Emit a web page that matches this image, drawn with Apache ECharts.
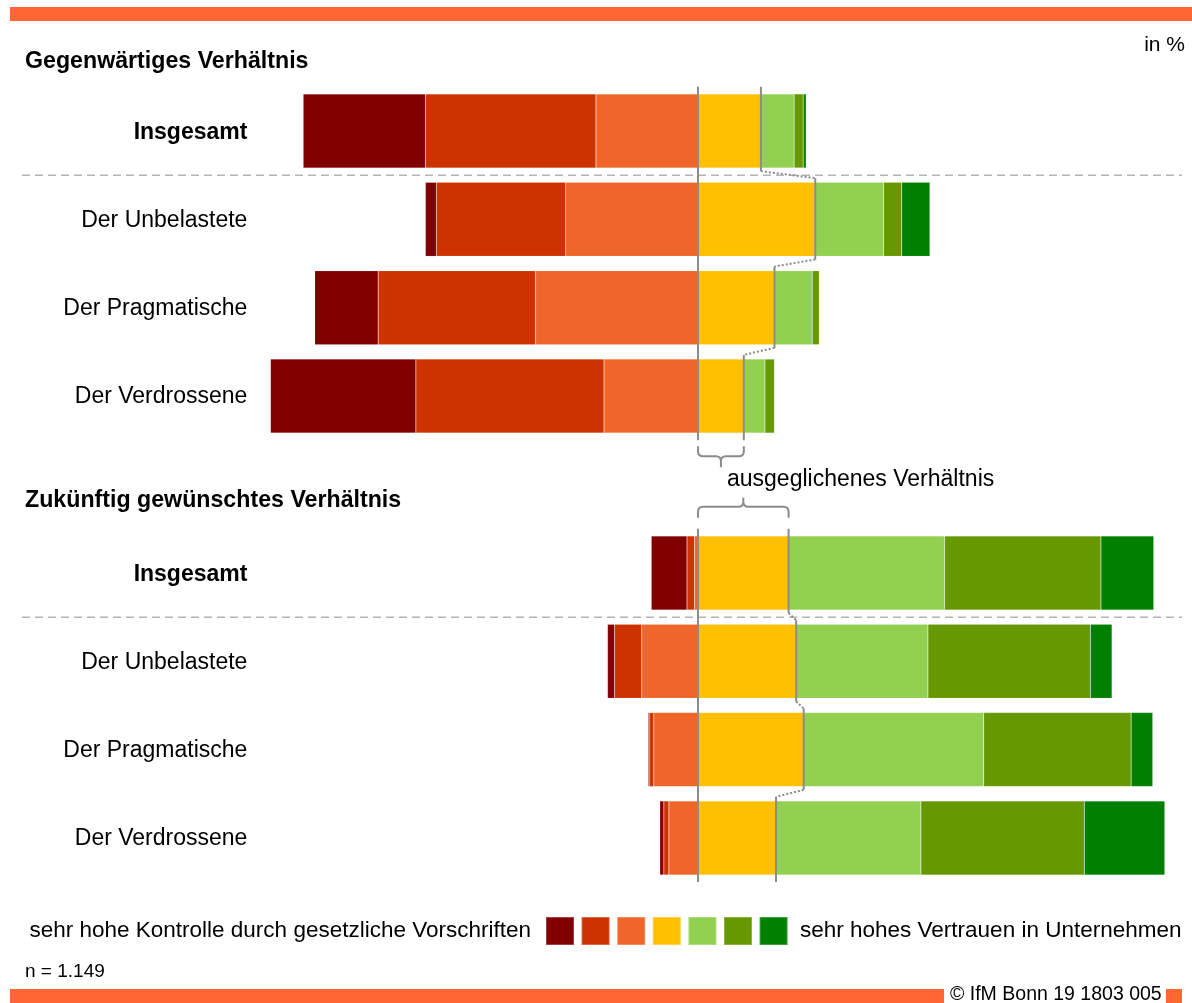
<!DOCTYPE html>
<html lang="de">
<head>
<meta charset="utf-8">
<title>Gegenwärtiges und gewünschtes Verhältnis</title>
<script src="https://cdn.jsdelivr.net/npm/echarts@6/dist/echarts.min.js"></script>
<style>
  html, body { margin: 0; padding: 0; background: #fff; }
  #chart { width: 1192px; height: 1003px; }
</style>
</head>
<body>
<div id="chart"></div>
<script>
const FONT = '"Liberation Sans", Arial, sans-serif'

const categories = ['Insgesamt', 'Der Unbelastete', 'Der Pragmatische', 'Der Verdrossene']
// Stufe 1 = sehr hohe Kontrolle ... Stufe 7 = sehr hohes Vertrauen
const levels = ['Stufe 1', 'Stufe 2', 'Stufe 3', 'Stufe 4', 'Stufe 5', 'Stufe 6', 'Stufe 7']
const colors = ['#800000', '#cc3300', '#ee6629', '#ffc000', '#92d050', '#669900', '#008000']

// in %, je Zeile eine Gruppe (Reihenfolge wie categories), Spalten Stufe 1..7
const current = [
  [24.3, 33.9, 20.3, 12.5, 6.6, 1.8, 0.6],
  [2.2, 25.7, 26.3, 23.3, 13.6, 3.6, 5.6],
  [12.6, 31.3, 32.3, 15.2, 7.5, 1.4, 0],
  [28.9, 37.4, 18.7, 9.1, 4.2, 1.9, 0]
]
const desired = [
  [7.1, 1.5, 0.7, 18.0, 31.0, 31.1, 10.5],
  [1.4, 5.4, 11.2, 19.5, 26.2, 32.3, 4.3],
  [0.3, 0.8, 8.8, 21.0, 35.8, 29.3, 4.3],
  [0.8, 1.0, 5.8, 15.5, 28.8, 32.5, 16.0]
]

const sectionTitles = ['Gegenwärtiges Verhältnis', 'Zukünftig gewünschtes Verhältnis']
const legendLeft = 'sehr hohe Kontrolle durch gesetzliche Vorschriften'
const legendRight = 'sehr hohes Vertrauen in Unternehmen'
const balancedLabel = 'ausgeglichenes Verhältnis'
const sampleNote = 'n = 1.149'
const sourceNote = '© IfM Bonn 19 1803 005'
const unitNote = 'in %'

const GRAY = '#8c8c8c'
// links liegende Stufen zuerst (von der Mitte nach außen), dann rechts
const stackOrder = [2, 1, 0, 3, 4, 5, 6]

function barSeries(rows, g) {
  return stackOrder.map(k => {
    const s = {
      name: levels[k],
      type: 'bar',
      stack: 'grid' + g,
      xAxisIndex: g,
      yAxisIndex: g,
      barWidth: 74,
      itemStyle: { color: colors[k], borderColor: 'rgba(255,255,255,0.25)', borderWidth: 0.5 },
      emphasis: { disabled: true },
      data: rows.map(r => (k < 3 ? -r[k] : r[k]))
    }
    if (k === 3) {
      s.markLine = {
        silent: true,
        symbol: 'none',
        label: { show: false },
        lineStyle: { color: GRAY, width: 2, type: 'solid' },
        data: [{ xAxis: 0 }]
      }
    }
    return s
  })
}

// Grenze zwischen "ausgeglichen" und Vertrauen, mit gepunkteter Verbindung
function boundarySeries(rows, g) {
  const vals = rows.map(r => r[3])
  const last = vals.length - 1
  return {
    type: 'custom',
    xAxisIndex: g,
    yAxisIndex: g,
    silent: true,
    clip: false,
    z: 5,
    data: vals.map((v, i) => [v, i]),
    renderItem(params, api) {
      const i = params.dataIndex
      const p = api.coord([vals[i], i])
      const h = api.size([0, 1])[1]
      const top = p[1] - h / 2
      const bot = p[1] + h / 2
      const y0 = i === 0 ? top : top + 3
      const y1 = i === last ? bot : bot - 4
      const children = [{
        type: 'line',
        shape: { x1: p[0], y1: y0, x2: p[0], y2: y1 },
        style: { stroke: GRAY, lineWidth: 2 }
      }]
      if (i < last) {
        const q = api.coord([vals[i + 1], i + 1])
        children.push({
          type: 'line',
          shape: { x1: p[0], y1: y1, x2: q[0], y2: q[1] - h / 2 + 3 },
          style: { stroke: GRAY, lineWidth: 2, lineDash: [2, 2] }
        })
      }
      return { type: 'group', children }
    }
  }
}

// geschweifte Klammer über die neutrale Stufe
function braceSeries(rows, g, idx, down) {
  const v = rows[idx][3]
  return {
    type: 'custom',
    xAxisIndex: g,
    yAxisIndex: g,
    silent: true,
    clip: false,
    data: [[v, idx]],
    renderItem(params, api) {
      const a = api.coord([0, idx])
      const b = api.coord([v, idx])
      const h = api.size([0, 1])[1]
      const s = down ? 1 : -1
      const edge = a[1] + s * h / 2
      const yA = edge + s * (down ? 6 : 11)
      const yB = edge + s * (down ? 16 : 22)
      const yC = edge + s * (down ? 27 : 31)
      const x0 = a[0], x1 = b[0], xm = (x0 + x1) / 2, r = 5
      const d = [
        'M', x0, yA, 'L', x0, yB - s * r, 'Q', x0, yB, x0 + r, yB,
        'L', xm - r, yB, 'Q', xm, yB, xm, yB + s * r, 'L', xm, yC,
        'M', xm, yB + s * r, 'Q', xm, yB, xm + r, yB,
        'L', x1 - r, yB, 'Q', x1, yB, x1, yB - s * r, 'L', x1, yA
      ].join(' ')
      return {
        type: 'path',
        shape: { pathData: d },
        style: { stroke: GRAY, lineWidth: 2, fill: null }
      }
    }
  }
}

function catAxis(g) {
  return {
    type: 'category',
    gridIndex: g,
    data: categories,
    inverse: true,
    axisLine: { show: false },
    axisTick: { show: false },
    axisLabel: {
      margin: 8,
      formatter: (val, i) => (i === 0 ? '{b|' + val + '}' : '{n|' + val + '}'),
      rich: {
        b: { fontFamily: FONT, fontSize: 23, fontWeight: 'bold', color: '#000', padding: [3, 0, 0, 0] },
        n: { fontFamily: FONT, fontSize: 23, color: '#000', padding: [2, 0, 0, 0] }
      }
    }
  }
}

function valAxis(g) {
  return { type: 'value', gridIndex: g, min: -88, max: 95, show: false }
}

function buildOption() {
  return {
    animation: false,
    textStyle: { fontFamily: FONT },
    grid: [
      { left: 255.4, right: 16.1, top: 86.75, height: 353.5 },
      { left: 255.4, right: 16.1, top: 528.8, height: 353.3 }
    ],
    xAxis: [valAxis(0), valAxis(1)],
    yAxis: [catAxis(0), catAxis(1)],
    legend: {
      data: levels,
      left: 545,
      top: 916,
      padding: 0,
      icon: 'rect',
      itemWidth: 28,
      itemHeight: 28,
      itemGap: 5.6,
      selectedMode: false,
      formatter: () => ''
    },
    series: [
      ...barSeries(current, 0),
      ...barSeries(desired, 1),
      boundarySeries(current, 0),
      boundarySeries(desired, 1),
      braceSeries(current, 0, 3, true),
      braceSeries(desired, 1, 0, false)
    ]
  }
}

function text(x, y, str, size, opts = {}) {
  return {
    type: 'text',
    x, y,
    silent: true,
    style: {
      text: str,
      font: (opts.bold ? 'bold ' : '') + size + 'px ' + FONT,
      fill: '#000',
      align: opts.align || 'left',
      verticalAlign: 'middle'
    }
  }
}

function buildGraphic(chart) {
  const px = (g, v, i) => chart.convertToPixel({ xAxisIndex: g, yAxisIndex: g }, [v, i])
  const sepY = g => (px(g, 0, 0)[1] + px(g, 0, 1)[1]) / 2
  const dashed = y => ({
    type: 'line',
    silent: true,
    shape: { x1: 22, y1: y, x2: 1182, y2: y },
    style: { stroke: '#b4b4b4', lineWidth: 1.5, lineDash: [8, 5] }
  })
  const band = (x, y, w, h) => ({ type: 'rect', silent: true, shape: { x, y, width: w, height: h }, style: { fill: '#ff6633' } })
  return [
    band(10, 7, 1182, 14),
    band(10, 989, 934, 14),
    band(1166, 989, 16, 14),
    text(1185, 45, unitNote, 21, { align: 'right' }),
    text(25, 62, sectionTitles[0], 23.2, { bold: true }),
    text(25, 501, sectionTitles[1], 23.2, { bold: true }),
    dashed(sepY(0)),
    dashed(sepY(1)),
    text(727, 480, balancedLabel, 23),
    text(531, 931, legendLeft, 22.5, { align: 'right' }),
    text(800, 931, legendRight, 22.5),
    text(25, 972, sampleNote, 19),
    text(950, 995, sourceNote, 19.5)
  ]
}

const chart = echarts.init(document.getElementById('chart'))
chart.setOption(buildOption())
chart.setOption({ graphic: buildGraphic(chart) })
window.addEventListener('resize', () => chart.resize())
</script>
</body>
</html>
